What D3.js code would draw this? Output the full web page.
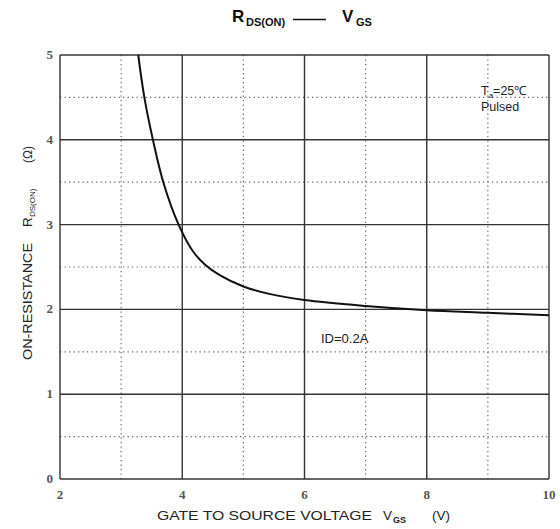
<!DOCTYPE html>
<html>
<head>
<meta charset="utf-8">
<script src="https://cdn.jsdelivr.net/npm/d3@7"></script>
<style>
  body { margin: 0; background: #fff; }
  svg { display: block; }
</style>
</head>
<body>
<svg width="560" height="529"></svg>
<script>
// curve: gate voltage (V) vs on-resistance (ohm)
var vgs = [3.28, 3.38, 3.52, 3.69, 3.94, 4.18, 4.37, 4.62, 5.0, 5.44, 6.0, 7.0, 8.0, 9.0, 10.0];
var rds = [5.0, 4.5, 4.0, 3.5, 3.0, 2.68, 2.53, 2.40, 2.27, 2.18, 2.11, 2.04, 1.99, 1.96, 1.93];
var xTicks = [2, 4, 6, 8, 10];
var yTicks = [0, 1, 2, 3, 4, 5];
var xMinor = [3, 5, 7, 9];
var yMinor = [0.5, 1.5, 2.5, 3.5, 4.5];

var svg = d3.select('svg');
var pLeft = 60, pRight = 549, pTop = 55, pBottom = 479;
var sans = 'Liberation Sans, Arial, sans-serif';

var x = d3.scaleLinear().domain([2, 10]).range([pLeft, pRight]);
var y = d3.scaleLinear().domain([0, 5]).range([pBottom, pTop]);

// dotted minor grid
svg.selectAll('.vminor')
  .data(xMinor)
  .enter()
  .append('line')
  .attr('x1', function(d) { return x(d); })
  .attr('x2', function(d) { return x(d); })
  .attr('y1', pTop)
  .attr('y2', pBottom)
  .attr('stroke', '#666')
  .attr('stroke-width', 1.2)
  .attr('stroke-dasharray', '1.3,3.2');
svg.selectAll('.hminor')
  .data(yMinor)
  .enter()
  .append('line')
  .attr('x1', pLeft)
  .attr('x2', pRight)
  .attr('y1', function(d) { return y(d); })
  .attr('y2', function(d) { return y(d); })
  .attr('stroke', '#666')
  .attr('stroke-width', 1.2)
  .attr('stroke-dasharray', '1.3,3.2');

// solid major grid
svg.selectAll('.vmajor')
  .data(xTicks)
  .enter()
  .append('line')
  .attr('x1', function(d) { return x(d); })
  .attr('x2', function(d) { return x(d); })
  .attr('y1', pTop)
  .attr('y2', pBottom)
  .attr('stroke', '#333')
  .attr('stroke-width', 1.4);
svg.selectAll('.hmajor')
  .data(yTicks)
  .enter()
  .append('line')
  .attr('x1', pLeft)
  .attr('x2', pRight)
  .attr('y1', function(d) { return y(d); })
  .attr('y2', function(d) { return y(d); })
  .attr('stroke', '#333')
  .attr('stroke-width', 1.4);

// tick labels
svg.selectAll('.xlab')
  .data(xTicks)
  .enter()
  .append('text')
  .attr('x', function(d) { return x(d); })
  .attr('y', 499)
  .attr('text-anchor', 'middle')
  .attr('font-family', 'Liberation Serif, serif')
  .attr('font-weight', 'bold')
  .attr('font-size', 13)
  .attr('fill', '#555')
  .text(function(d) { return d; });
svg.selectAll('.ylab')
  .data(yTicks)
  .enter()
  .append('text')
  .attr('x', 53)
  .attr('y', function(d) { return y(d) + 4; })
  .attr('text-anchor', 'end')
  .attr('font-family', 'Liberation Serif, serif')
  .attr('font-weight', 'bold')
  .attr('font-size', 13)
  .attr('fill', '#555')
  .text(function(d) { return d; });

// the curve
var pts = vgs.map(function(v, i) { return [v, rds[i]]; });
svg.append('path')
  .datum(pts)
  .attr('fill', 'none')
  .attr('stroke', '#111')
  .attr('stroke-width', 2)
  .attr('d', d3.line()
    .x(function(d) { return x(d[0]); })
    .y(function(d) { return y(d[1]); })
    .curve(d3.curveCatmullRom.alpha(0.5)));

// title
svg.append('text')
  .attr('x', 232).attr('y', 22)
  .attr('font-family', sans).attr('font-weight', 'bold')
  .attr('font-size', 17).attr('fill', '#111')
  .text('R');
svg.append('text')
  .attr('x', 246).attr('y', 26)
  .attr('font-family', sans).attr('font-weight', 'bold')
  .attr('font-size', 11).attr('fill', '#111')
  .text('DS(ON)');
svg.append('line')
  .attr('x1', 293).attr('x2', 326)
  .attr('y1', 19.5).attr('y2', 19.5)
  .attr('stroke', '#111').attr('stroke-width', 1.5);
svg.append('text')
  .attr('x', 342).attr('y', 22)
  .attr('font-family', sans).attr('font-weight', 'bold')
  .attr('font-size', 17).attr('fill', '#111')
  .text('V');
svg.append('text')
  .attr('x', 356).attr('y', 26)
  .attr('font-family', sans).attr('font-weight', 'bold')
  .attr('font-size', 11).attr('fill', '#111')
  .text('GS');

// annotations
var ta = svg.append('text')
  .attr('x', 481)
  .attr('y', 95)
  .attr('font-family', sans)
  .attr('font-size', 12.5)
  .attr('fill', '#222');
ta.append('tspan').text('T');
ta.append('tspan').attr('font-size', 8).attr('dy', 3).text('a');
ta.append('tspan').attr('dy', -3).text('=25\u2103');
svg.append('text')
  .attr('x', 481)
  .attr('y', 111)
  .attr('font-family', sans)
  .attr('font-size', 12.5)
  .attr('fill', '#222')
  .text('Pulsed');
svg.append('text')
  .attr('x', 321)
  .attr('y', 343)
  .attr('font-family', sans)
  .attr('font-size', 13)
  .attr('fill', '#222')
  .text('ID=0.2A');

// x axis title
svg.append('text')
  .attr('x', 157).attr('y', 520)
  .attr('font-family', sans).attr('font-size', 13.5).attr('fill', '#222')
  .attr('textLength', 215).attr('lengthAdjust', 'spacingAndGlyphs')
  .text('GATE TO SOURCE VOLTAGE');
svg.append('text')
  .attr('x', 383).attr('y', 520)
  .attr('font-family', sans).attr('font-size', 13.5).attr('fill', '#222')
  .text('V');
svg.append('text')
  .attr('x', 393).attr('y', 523)
  .attr('font-family', sans).attr('font-weight', 'bold').attr('font-size', 9).attr('fill', '#222')
  .text('GS');
svg.append('text')
  .attr('x', 432).attr('y', 520)
  .attr('font-family', sans).attr('font-size', 13.5).attr('fill', '#222')
  .text('(V)');

// y axis title, rotated; x here runs up the page
var yg = svg.append('g').attr('transform', 'translate(32,0) rotate(-90)');
yg.append('text')
  .attr('x', -360).attr('y', 0)
  .attr('font-family', sans).attr('font-size', 13.5).attr('fill', '#222')
  .attr('textLength', 117).attr('lengthAdjust', 'spacingAndGlyphs')
  .text('ON-RESISTANCE');
yg.append('text')
  .attr('x', -227).attr('y', 0)
  .attr('font-family', sans).attr('font-size', 13.5).attr('fill', '#222')
  .text('R');
yg.append('text')
  .attr('x', -217).attr('y', 3)
  .attr('font-family', sans).attr('font-size', 8).attr('fill', '#222')
  .text('DS(ON)');
yg.append('text')
  .attr('x', -163).attr('y', 0)
  .attr('font-family', sans).attr('font-size', 12).attr('fill', '#222')
  .text('(\u03a9)');
</script>
</body>
</html>
